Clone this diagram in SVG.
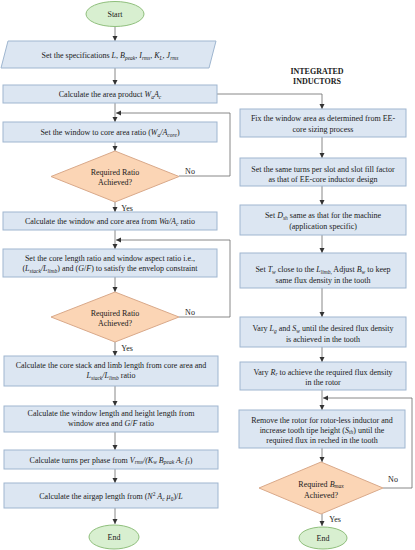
<svg xmlns="http://www.w3.org/2000/svg" width="415" height="550" viewBox="0 0 415 550">
<style>
  text { font-family: "Liberation Serif", "Times New Roman", serif; font-size: 8px; fill: #1a1a1a; text-anchor: middle; }
  .b { fill: #dce6f2; stroke: #9fb6d0; stroke-width: 1; }
  .d { fill: #fbd5b5; stroke: #d9a98a; stroke-width: 1; }
  .e { fill: #d8efd0; stroke: #8fbf7c; stroke-width: 1; }
  .c { fill: none; stroke: #6b6b6b; stroke-width: 0.8; }
  .i { font-style: italic; }
  .s { font-size: 5.5px; }
  .t { font-weight: bold; }
</style>
<defs>
  <marker id="ah" markerUnits="userSpaceOnUse" markerWidth="6" markerHeight="6" refX="5" refY="3" orient="auto">
    <path d="M0,0.5 L5,3 L0,5.5 z" fill="#333"/>
  </marker>
</defs>

<g id="connectors">
  <line class="c" x1="115" y1="27" x2="115" y2="41" marker-end="url(#ah)"/>
  <line class="c" x1="115" y1="68" x2="115" y2="85" marker-end="url(#ah)"/>
  <line class="c" x1="115" y1="103" x2="115" y2="122" marker-end="url(#ah)"/>
  <line class="c" x1="115" y1="142" x2="115" y2="151" marker-end="url(#ah)"/>
  <line class="c" x1="115" y1="202" x2="115" y2="212" marker-end="url(#ah)"/>
  <line class="c" x1="115" y1="230" x2="115" y2="249" marker-end="url(#ah)"/>
  <line class="c" x1="115" y1="277" x2="115" y2="292" marker-end="url(#ah)"/>
  <line class="c" x1="115" y1="342" x2="115" y2="356" marker-end="url(#ah)"/>
  <line class="c" x1="115" y1="386" x2="115" y2="406" marker-end="url(#ah)"/>
  <line class="c" x1="115" y1="432" x2="115" y2="450" marker-end="url(#ah)"/>
  <line class="c" x1="115" y1="469" x2="115" y2="483" marker-end="url(#ah)"/>
  <line class="c" x1="115" y1="508" x2="115" y2="524" marker-end="url(#ah)"/>
  <polyline class="c" points="179,176 230,176 230,113 116,113" marker-end="url(#ah)"/>
  <polyline class="c" points="179,317 230,317 230,240 116,240" marker-end="url(#ah)"/>
  <polyline class="c" points="217,94 322,94 322,109" marker-end="url(#ah)"/>
  <line class="c" x1="322" y1="137" x2="322" y2="158" marker-end="url(#ah)"/>
  <line class="c" x1="322" y1="186" x2="322" y2="205" marker-end="url(#ah)"/>
  <line class="c" x1="322" y1="235" x2="322" y2="253" marker-end="url(#ah)"/>
  <line class="c" x1="322" y1="288" x2="322" y2="317" marker-end="url(#ah)"/>
  <line class="c" x1="322" y1="347" x2="322" y2="362" marker-end="url(#ah)"/>
  <line class="c" x1="322" y1="390" x2="322" y2="410" marker-end="url(#ah)"/>
  <line class="c" x1="322" y1="448" x2="322" y2="462" marker-end="url(#ah)"/>
  <line class="c" x1="322" y1="514" x2="322" y2="526" marker-end="url(#ah)"/>
  <polyline class="c" points="383,488 412,488 412,398 323,398" marker-end="url(#ah)"/>
  <text x="190" y="174">No</text>
  <text x="190" y="315">No</text>
  <text x="127" y="211">Yes</text>
  <text x="127" y="351">Yes</text>
  <text x="393" y="482">No</text>
  <text x="335" y="522">Yes</text>
</g>

<g id="start">
  <ellipse class="e" cx="115" cy="14" rx="29" ry="12.5"/>
  <text x="115" y="17">Start</text>
</g>

<g id="specs">
  <polygon class="b" points="8,41 216,41 209,68 1,68"/>
  <text x="110" y="58">Set the specifications <tspan class="i">L</tspan>, <tspan class="i">B</tspan><tspan class="i s" dy="1.5">peak</tspan><tspan dy="-1.5">, </tspan><tspan class="i">I</tspan><tspan class="i s" dy="1.5">rms</tspan><tspan dy="-1.5">, </tspan><tspan class="i">K</tspan><tspan class="i s" dy="1.5">L</tspan><tspan dy="-1.5">, </tspan><tspan class="i">J</tspan><tspan class="i s" dy="1.5">rms</tspan></text>
</g>

<g id="areaproduct">
  <rect class="b" x="3" y="85" width="214" height="18"/>
  <text x="110" y="97">Calculate the area product <tspan class="i">W</tspan><tspan class="i s" dy="1.5">a</tspan><tspan class="i" dy="-1.5">A</tspan><tspan class="i s" dy="1.5">c</tspan></text>
</g>

<g id="windowratio">
  <rect class="b" x="3" y="122" width="214" height="20"/>
  <text x="110" y="135">Set the window to core area ratio (<tspan class="i">W</tspan><tspan class="i s" dy="1.5">a</tspan><tspan class="i" dy="-1.5">/A</tspan><tspan class="i s" dy="1.5">core</tspan><tspan dy="-1.5">)</tspan></text>
</g>

<g id="decision1">
  <polygon class="d" points="115,151 179,176.5 115,202 51,176.5"/>
  <text x="115" y="175">Required Ratio</text>
  <text x="115" y="185">Achieved?</text>
</g>

<g id="windowcore">
  <rect class="b" x="3" y="212" width="214" height="18"/>
  <text x="110" y="224">Calculate the window and core area from <tspan class="i">Wa/A</tspan><tspan class="i s" dy="1.5">c</tspan><tspan dy="-1.5"> ratio</tspan></text>
</g>

<g id="corelength">
  <rect class="b" x="3" y="249" width="214" height="28"/>
  <text x="110" y="260.5">Set the core length ratio and window aspect ratio i.e.,</text>
  <text x="110" y="271">(<tspan class="i">L</tspan><tspan class="i s" dy="1.5">stack</tspan><tspan class="i" dy="-1.5">/L</tspan><tspan class="i s" dy="1.5">limb</tspan><tspan dy="-1.5">) and (</tspan><tspan class="i">G</tspan>/<tspan class="i">F</tspan>) to satisfy the envelop constraint</text>
</g>

<g id="decision2">
  <polygon class="d" points="115,292 179,317 115,342 51,317"/>
  <text x="115" y="316">Required Ratio</text>
  <text x="115" y="326">Achieved?</text>
</g>

<g id="corestack">
  <rect class="b" x="4" y="356" width="214" height="30"/>
  <text x="111" y="368">Calculate the core stack and limb length from core area and</text>
  <text x="111" y="378"><tspan class="i">L</tspan><tspan class="i s" dy="1.5">stack</tspan><tspan class="i" dy="-1.5">/L</tspan><tspan class="i s" dy="1.5">limb</tspan><tspan dy="-1.5"> ratio</tspan></text>
</g>

<g id="windowlength">
  <rect class="b" x="4" y="406" width="214" height="26"/>
  <text x="111" y="416">Calculate the window length and height length from</text>
  <text x="111" y="426">window area and <tspan class="i">G</tspan>/<tspan class="i">F</tspan> ratio</text>
</g>

<g id="turns">
  <rect class="b" x="4" y="450" width="214" height="19"/>
  <text x="111" y="462.5">Calculate turns per phase from <tspan class="i">V</tspan><tspan class="i s" dy="1.5">rms</tspan><tspan class="i" dy="-1.5">/(K</tspan><tspan class="i s" dy="1.5">w</tspan><tspan class="i" dy="-1.5"> B</tspan><tspan class="i s" dy="1.5">peak</tspan><tspan class="i" dy="-1.5"> A</tspan><tspan class="i s" dy="1.5">c</tspan><tspan class="i" dy="-1.5"> f</tspan><tspan class="i s" dy="1.5">s</tspan><tspan dy="-1.5">)</tspan></text>
</g>

<g id="airgap">
  <rect class="b" x="4" y="483" width="214" height="25"/>
  <text x="111" y="499">Calculate the airgap length from (<tspan class="i">N</tspan><tspan class="s" dy="-3">2</tspan><tspan class="i" dy="3"> A</tspan><tspan class="i s" dy="1.5">c</tspan><tspan class="i" dy="-1.5"> μ</tspan><tspan class="s" dy="1.5">0</tspan><tspan dy="-1.5">)/</tspan><tspan class="i">L</tspan></text>
</g>

<g id="end1">
  <ellipse class="e" cx="114" cy="537" rx="25" ry="12"/>
  <text x="114" y="540">End</text>
</g>

<g id="title">
  <text class="t" x="317" y="74">INTEGRATED</text>
  <text class="t" x="317" y="84">INDUCTORS</text>
</g>

<g id="fixwindow">
  <rect class="b" x="240" y="109" width="166" height="28"/>
  <text x="323" y="121">Fix the window area as determined from EE-</text>
  <text x="323" y="132">core sizing process</text>
</g>

<g id="turnsslot">
  <rect class="b" x="240" y="158" width="166" height="28"/>
  <text x="323" y="172">Set the same turns per slot and slot fill factor</text>
  <text x="323" y="182">as that of EE-core inductor design</text>
</g>

<g id="dsh">
  <rect class="b" x="240" y="205" width="166" height="30"/>
  <text x="323" y="218">Set <tspan class="i">D</tspan><tspan class="i s" dy="1.5">sh</tspan><tspan dy="-1.5"> same as that for the machine</tspan></text>
  <text x="323" y="229">(application specific)</text>
</g>

<g id="tw">
  <rect class="b" x="240" y="253" width="166" height="35"/>
  <text x="323" y="272">Set <tspan class="i">T</tspan><tspan class="i s" dy="1.5">w</tspan><tspan dy="-1.5"> close to the </tspan><tspan class="i">L</tspan><tspan class="i s" dy="1.5">limb,</tspan><tspan dy="-1.5"> Adjust </tspan><tspan class="i">B</tspan><tspan class="i s" dy="1.5">w</tspan><tspan dy="-1.5"> to keep</tspan></text>
  <text x="323" y="283">same flux density in the tooth</text>
</g>

<g id="lgsw">
  <rect class="b" x="240" y="317" width="166" height="30"/>
  <text x="323" y="331">Vary <tspan class="i">L</tspan><tspan class="i s" dy="1.5">g</tspan><tspan dy="-1.5"> and </tspan><tspan class="i">S</tspan><tspan class="i s" dy="1.5">w</tspan><tspan dy="-1.5"> until the desired flux density</tspan></text>
  <text x="323" y="342">is achieved in the tooth</text>
</g>

<g id="rr">
  <rect class="b" x="240" y="362" width="166" height="28"/>
  <text x="323" y="375">Vary <tspan class="i">R</tspan><tspan class="i s" dy="1">r</tspan><tspan dy="-1"> to achieve the required flux density</tspan></text>
  <text x="323" y="385">in the rotor</text>
</g>

<g id="rotorless">
  <rect class="b" x="239" y="410" width="166" height="38"/>
  <text x="322" y="423">Remove the rotor for rotor-less inductor and</text>
  <text x="322" y="433">increase tooth tipe height (<tspan class="i">S</tspan><tspan class="i s" dy="1">th</tspan><tspan dy="-1">) until the</tspan></text>
  <text x="322" y="443">required flux in reched in the tooth</text>
</g>

<g id="decision3">
  <polygon class="d" points="321,462 383,488 321,514 259,488"/>
  <text x="321" y="487">Required <tspan class="i">B</tspan><tspan class="i s" dy="1">max</tspan></text>
  <text x="321" y="498">Achieved?</text>
</g>

<g id="end2">
  <ellipse class="e" cx="323" cy="538" rx="24" ry="11"/>
  <text x="323" y="541">End</text>
</g>
</svg>
